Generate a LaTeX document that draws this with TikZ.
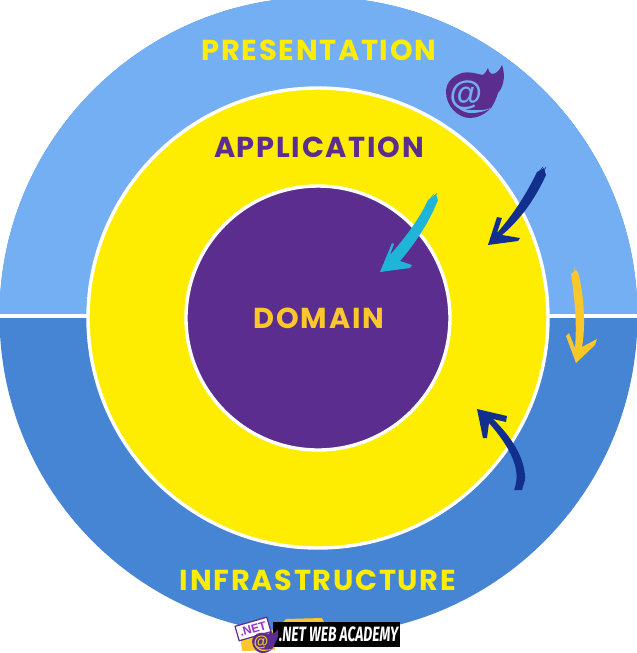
\documentclass[tikz,border=0pt]{standalone}
\usepackage{fontspec}
\setmainfont{Poppins}
\newfontfamily\badgefont[FakeStretch=0.67]{Fira Sans}
\newfontfamily\atfont{Liberation Sans}
\definecolor{toplayer}{HTML}{74AFF3}
\definecolor{lowlayer}{HTML}{4585D3}
\definecolor{midlayer}{HTML}{FFED00}
\definecolor{corelayer}{HTML}{5B2D8E}
\definecolor{gold}{HTML}{FBC72A}
\definecolor{navy}{HTML}{132F8E}
\definecolor{cyanbrush}{HTML}{1FB5D9}
\definecolor{netviolet}{HTML}{9B30C8}
\newfontfamily\labelfont[LetterSpace=6]{Poppins}
\tikzset{
  layerlabel/.style={font=\labelfont\fontsize{8.2}{8.2}\selectfont\bfseries, inner sep=0pt},
  ring/.style={draw=white, line width=0.034cm},
  brush/.style={line join=round, draw=none},
  streak/.style={line width=0.006cm, line cap=round},
}
% flame logo: position, scale, flame colour, at-sign colour, font size
\newcommand{\flamelogo}[6]{
  \begin{scope}[shift={(#1)}, scale=#2]
    \fill[#3] (34,-28) .. controls (37,-20) and (37,-8) .. (30,0)
      .. controls (28,6) and (26,11) .. (23,15)
      .. controls (16,22) and (9,25) .. (2,25)
      .. controls (-10,25) and (-22,13) .. (-22,-1)
      .. controls (-22,-11) and (-15,-17) .. (-6,-20)
      .. controls (2,-22) and (9,-19) .. (15,-18)
      .. controls (17,-20) and (19,-22) .. (20,-25) .. controls (20,-22) and (22,-20) .. (24,-19)
      .. controls (28,-19) and (32,-23) .. (34,-28) -- cycle;
    \fill[#4] (-17,4) .. controls (-14,14) and (-5,20) .. (3,20)
      .. controls (11,20) and (18,18) .. (23,15)
      .. controls (16,18) and (9,17) .. (3,17)
      .. controls (-6,17) and (-13,11) .. (-17,4) -- cycle;
    \node (#6) at (-2,2) [inner sep=0pt, text=#4, font=\atfont\fontsize{#5}{#5}\selectfont\bfseries] {@};
  \end{scope}
}
\begin{document}
\begin{tikzpicture}[x=0.01cm,y=-0.01cm]
  \useasboundingbox (0,0) rectangle (637,653);
  \begin{scope}
    \clip (0,0) rectangle (637,653);
    \fill[lowlayer] (318.5,316) circle[radius=319];
    \fill[toplayer] (-0.5,316) arc[start angle=180,end angle=360,radius=319] -- cycle;
  \end{scope}
  \draw[ring] (0,316) -- (637,316);
  \filldraw[ring, fill=midlayer] (318,318) circle[radius=230];
  \filldraw[ring, fill=corelayer] (318,318) circle[radius=132];

  \node (presentation) at (319,50) [layerlabel, text=midlayer] {PRESENTATION};
  \node (application) at (319,147.5) [layerlabel, text=corelayer] {APPLICATION};
  \node (domain) at (319,318.5) [layerlabel, text=gold] {DOMAIN};
  \node (infrastructure) at (318,580.5) [layerlabel, text=midlayer] {INFRASTRUCTURE};

  \flamelogo{468,93}{1}{corelayer}{toplayer}{9.5}{bigat}

  % brush arrows
  \fill[brush, navy] (544,168) -- (546,175) .. controls (536,197) and (522,218) .. (502,235) -- (520,238) -- (518,241) -- (488,245) -- (497,217) -- (502,218) -- (497,233) .. controls (512,216) and (526,195) .. (537,172) -- cycle;
  \draw[streak, navy] (543,172) -- (546,167);
  \draw[streak, navy] (539,172) -- (543,167);
  \fill[brush, cyanbrush] (436,194) -- (438,200) .. controls (430,220) and (418,240) .. (400,261) -- (412,265) -- (410,268) -- (380,272) -- (392,243) -- (394,244) -- (390,255) .. controls (405,238) and (420,218) .. (428,200) -- cycle;
  \draw[streak, cyanbrush] (434,198) -- (437,193);
  \draw[streak, cyanbrush] (430,199) -- (434,194);
  \fill[brush, gold] (576,270) -- (578,272) .. controls (584,295) and (586,325) .. (582,347) -- (597,339) -- (595,345) -- (576,363) -- (566,336) -- (569,333) -- (575,348) .. controls (577,325) and (575,300) .. (571,274) -- cycle;
  \draw[streak, gold] (575,275) -- (574,268);
  \fill[brush, navy] (477,409) -- (507,416) -- (506,422) -- (493,419) .. controls (512,437) and (526,460) .. (525,480) -- (522,490) -- (514,490) .. controls (520,475) and (517,455) .. (489,423) -- (487,438) -- (483,438) -- cycle;

  % badge
  \fill[gold] (240,632) -- (275,630) -- (275,650) -- (242,651) -- cycle;
  \fill[gold] (283,622) -- (286,619) -- (322,618) -- (324,622) -- cycle;
  \node (academy) at (336.5,634.5) [fill=black, text=white, inner sep=0pt, minimum width=1.27cm, minimum height=0.25cm, font=\badgefont\fontsize{5.9}{5.9}\selectfont\bfseries\itshape] {\hspace{1.2pt}.NET WEB ACADEMY};
  \node (netbox) at (253,629) [draw=corelayer, line width=0.012cm, fill=white, rotate=16, inner sep=0pt, minimum width=0.33cm, minimum height=0.15cm, text=netviolet, font=\atfont\fontsize{3.4}{3.4}\selectfont\bfseries] {.NET};
  \flamelogo{262,642}{0.45}{corelayer}{gold}{4.2}{smallat}
\end{tikzpicture}
\end{document}
